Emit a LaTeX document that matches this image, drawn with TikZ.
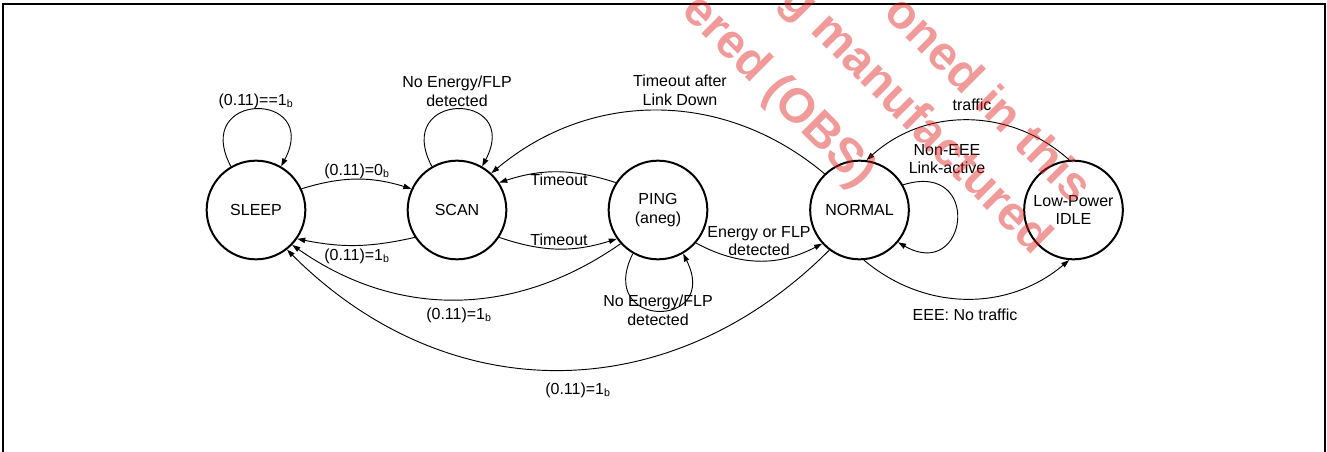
\documentclass[tikz,border=0pt]{standalone}
\usepackage{fontspec}
\setmainfont{Liberation Sans}
\usetikzlibrary{arrows.meta}
\definecolor{wmred}{RGB}{225,30,30}

\begin{document}
\begin{tikzpicture}[x=0.75pt, y=-0.75pt,
        font=\fontsize{12}{14}\selectfont,
        statenode/.style={circle, draw, line width=1.5pt, minimum size=74pt, inner sep=0pt, align=center},
        trans/.style={-{Triangle[length=6pt,width=4pt]}, line width=0.7pt},
        lbl/.style={align=center, inner sep=0pt},
        wmark/.style={text=wmred, text opacity=0.45, rotate=-45,
            font=\fontsize{36}{36}\selectfont\bfseries}]
            \useasboundingbox (0,0) rectangle (1327,452);
            \draw[line width=1.1pt] (3,452) -- (3,4) -- (1325,4) -- (1325,452);

            \node[statenode] (sleep) at (256,210) {SLEEP};
            \node[statenode] (scan) at (457,210) {SCAN};
            \node[statenode] (ping) at (658,210) {PING\\(aneg)};
            \node[statenode] (normal) at (859.5,210) {NORMAL};
            \node[statenode] (idle) at (1073.5,210) {Low-Power\\IDLE};

            % self loops
            \draw[trans] (sleep.120) .. controls +(-40,-76) and +(40,-76) .. (sleep.60);
            \draw[trans] (scan.120) .. controls +(-40,-76) and +(40,-76) .. (scan.60);
            \draw[trans] (ping.240) .. controls +(-38,76) and +(38,76) .. (ping.300);
            \draw[trans] (normal.30) .. controls +(80,-25) and +(70,40) .. (normal.-40);

            \draw[trans] (sleep.25) to[bend left=17] (scan.155);
            \draw[trans] (scan.213) to[bend left=12] (sleep.325);
            \draw[trans] (ping.147) to[bend right=18] (scan.33);
            \draw[trans] (scan.-33) to[bend right=18] (ping.215);
            \draw[trans] (ping.222) to[out=215, in=-35] (sleep.316);
            \draw[trans] (ping.-41) to[bend right=28] (normal.222);
            \draw[trans] (normal.134) to[bend right=40] (scan.47);
            \draw[trans] (normal.233) to[out=225, in=-45, looseness=1.07] (sleep.308);
            \draw[trans] (idle.95) to[bend right=42] (normal.82);
            \draw[trans] (normal.-85) to[bend right=40] (idle.-95);

            % labels
            \node[lbl] (lsleeploop) at (256,101) {(0.11)==1\textsubscript{b}};
            \node[lbl] (lscanloop) at (457,91) {No Energy/FLP\\detected};
            \node[lbl] (lsleepscan) at (357,171) {(0.11)=0\textsubscript{b}};
            \node[lbl] (lscansleep) at (357,256) {(0.11)=1\textsubscript{b}};
            \node[lbl] (ltimeoutup) at (559,180) {Timeout};
            \node[lbl] (ltimeoutdn) at (559,240) {Timeout};
            \node[lbl] (llinkdown) at (680,90) {Timeout after\\Link Down};
            \node[lbl] (lenergy) at (759,241) {Energy or FLP\\detected};
            \node[lbl] (lpingloop) at (658,310) {No Energy/FLP\\detected};
            \node[lbl] (lpingsleep) at (459,315) {(0.11)=1\textsubscript{b}};
            \node[lbl] (lnormalsleep) at (578,390) {(0.11)=1\textsubscript{b}};
            \node[lbl] (lnoneee) at (947,159) {Non-EEE\\Link-active};
            \node[lbl] (ltraffic) at (972,105) {traffic};
            \node[lbl] (leee) at (965,315) {EEE: No traffic};

            % watermark
            \begin{scope}
                \clip (0,0) rectangle (1327,452);
                \node[wmark] (wmone) at (778,92) {ered (OBS)};
                \node[wmark] (wmtwo) at (915,120) {g manufactured};
                \node[wmark] (wmthree) at (990,98) {oned in this};
            \end{scope}
        \end{tikzpicture}
\end{document}
